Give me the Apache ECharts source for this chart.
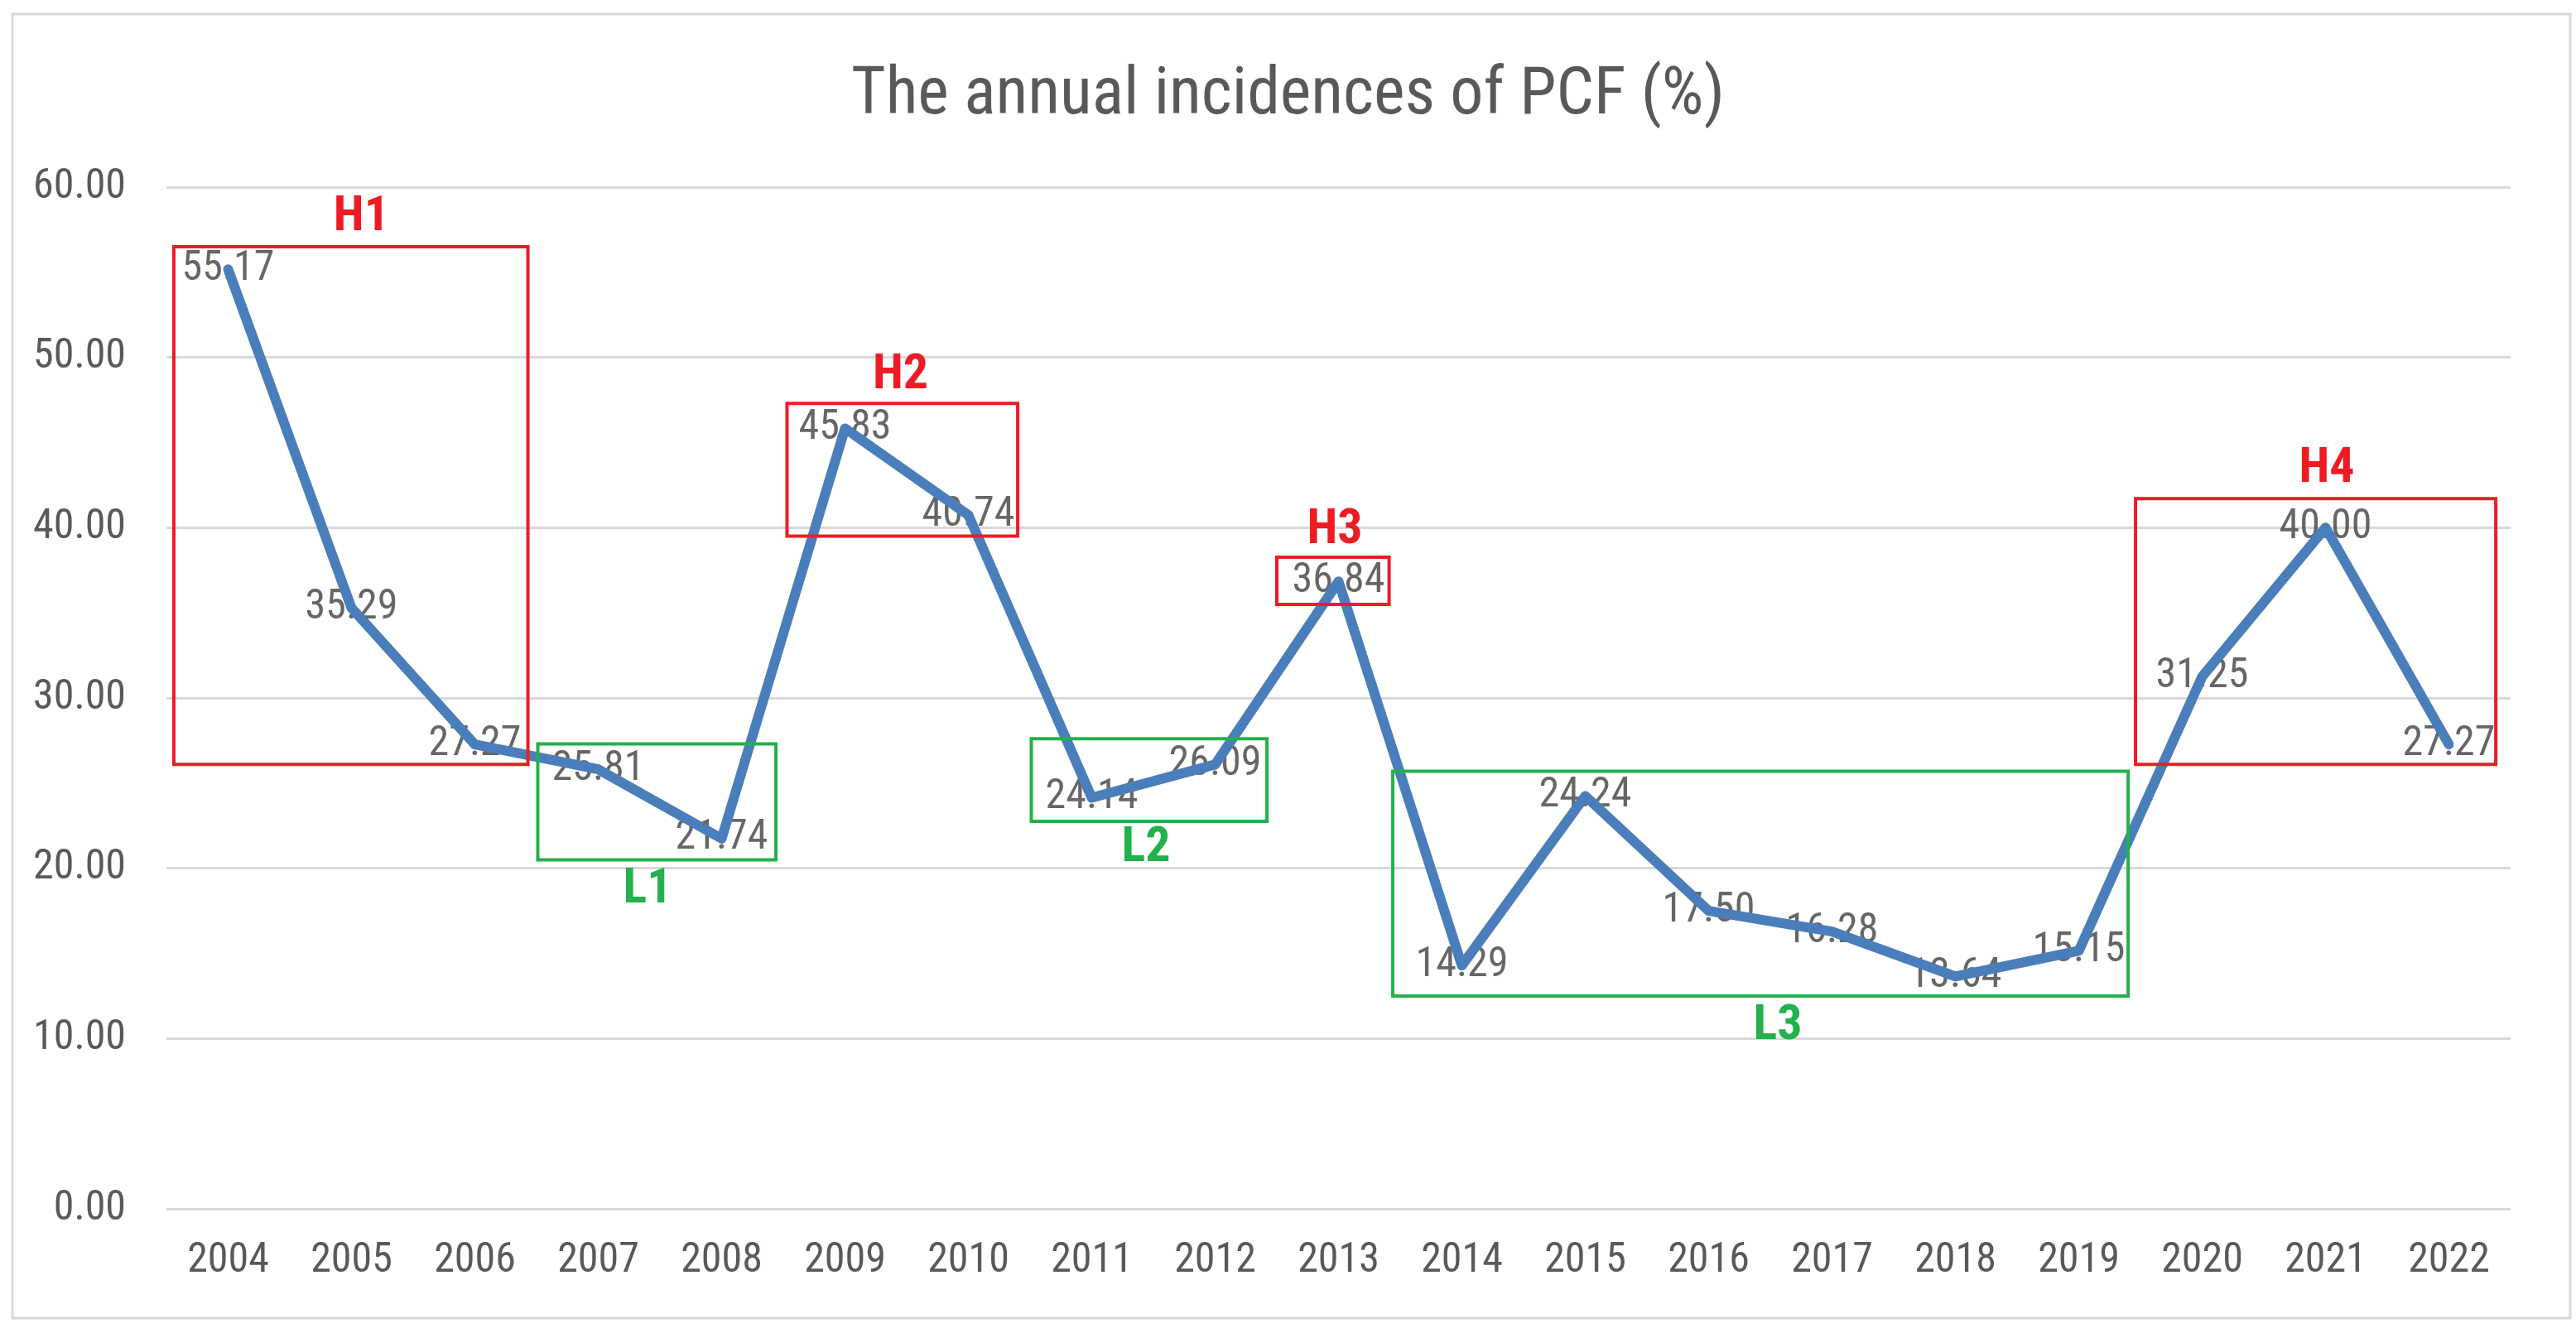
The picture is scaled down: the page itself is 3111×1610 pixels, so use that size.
<!DOCTYPE html>
<html>
<head>
<meta charset="utf-8">
<script src="https://cdn.jsdelivr.net/npm/echarts@6/dist/echarts.min.js"></script>
<style>
html,body{margin:0;padding:0;background:#fff;}
#chart{width:3111px;height:1610px;}
</style>
</head>
<body>
<div id="chart"></div>
<script>
// ---- data ----
var years = ['2004','2005','2006','2007','2008','2009','2010','2011','2012','2013','2014','2015','2016','2017','2018','2019','2020','2021','2022'];
var incidence = [55.17,35.29,27.27,25.81,21.74,45.83,40.74,24.14,26.09,36.84,14.29,24.24,17.50,16.28,13.64,15.15,31.25,40.00,27.27];
var yTicks = [0,10,20,30,40,50,60];

// annotation boxes: category index range (fractional) and value range
var boxNames = ['H1','H2','H3','H4','L1','L2','L3'];
var boxX0 = [-0.44, 4.53, 8.50, 15.46, 2.51, 6.51, 9.44];
var boxX1 = [ 2.43, 6.40, 9.41, 18.38, 4.44, 8.42, 15.40];
var boxY0 = [26.1, 39.5, 35.5, 26.1, 20.5, 22.75, 12.5];
var boxY1 = [56.5, 47.3, 38.26, 41.7, 27.3, 27.6, 25.7];
var labelX = [1.08, 5.45, 8.97, 17.01, 3.40, 7.44, 12.56];
var labelY = [58.2, 48.9, 39.8, 43.4, 18.7, 21.15, 10.7];
var boxKind = ['high','high','high','high','low','low','low'];

var RED = '#ED1C24', GREEN = '#22B14C';
var FONT = "'Liberation Sans Narrow', 'Roboto Condensed', Roboto, sans-serif";

var chart = echarts.init(document.getElementById('chart'));

var annoData = boxNames.map(function(n, i){
  return [boxX0[i], boxY0[i], boxX1[i], boxY1[i], labelX[i], labelY[i]];
});

var option = {
  backgroundColor: '#ffffff',
  animation: false,
  title: {
    text: 'The annual incidences of PCF (%)',
    left: 'center',
    top: 72,
    textStyle: { fontFamily: FONT, fontSize: 80, fontWeight: 'normal', color: '#595959' }
  },
  grid: { left: 201, right: 79, top: 226, bottom: 150 },
  xAxis: [{
    type: 'category',
    data: years,
    boundaryGap: true,
    axisLine: { show: false },
    axisTick: { show: false },
    axisLabel: { fontFamily: FONT, fontSize: 50, color: '#595959', margin: 38, interval: 0 }
  }, {
    type: 'value',
    min: -0.5, max: 18.5,
    show: false
  }],
  yAxis: {
    type: 'value',
    min: yTicks[0], max: yTicks[yTicks.length-1], interval: 10,
    axisLine: { show: false },
    axisTick: { show: false },
    splitLine: { lineStyle: { color: '#d9d9d9', width: 3 } },
    axisLabel: {
      fontFamily: FONT, fontSize: 50, color: '#595959', margin: 49,
      formatter: function(v){ return v.toFixed(2); }
    }
  },
  series: [{
    // data labels, drawn beneath the line as in the reference
    type: 'scatter',
    data: incidence,
    symbol: 'circle',
    symbolSize: 0,
    itemStyle: { color: 'rgba(0,0,0,0)' },
    label: {
      show: true,
      position: 'inside',
      fontFamily: FONT, fontSize: 50, color: '#404040',
      formatter: function(p){ return p.value.toFixed(2); }
    },
    silent: true,
    z: 1
  }, {
    type: 'line',
    data: incidence,
    symbol: 'none',
    lineStyle: { color: '#4A7EBB', width: 12, cap: 'round', join: 'round' },
    itemStyle: { color: '#4A7EBB' },
    z: 2
  }, {
    type: 'custom',
    xAxisIndex: 1,
    yAxisIndex: 0,
    data: annoData,
    encode: { x: [0, 2, 4], y: [1, 3, 5] },
    z: 3,
    silent: true,
    renderItem: function(params, api){
      var i = params.dataIndex;
      var p0 = api.coord([api.value(0), api.value(1)]);
      var p1 = api.coord([api.value(2), api.value(3)]);
      var pl = api.coord([api.value(4), api.value(5)]);
      var col = boxKind[i] === 'high' ? RED : GREEN;
      return {
        type: 'group',
        children: [{
          type: 'rect',
          shape: { x: Math.min(p0[0], p1[0]), y: Math.min(p0[1], p1[1]),
                   width: Math.abs(p1[0]-p0[0]), height: Math.abs(p1[1]-p0[1]) },
          style: { fill: 'none', stroke: col, lineWidth: 4 }
        }, {
          type: 'text',
          style: {
            text: boxNames[i], x: pl[0], y: pl[1],
            fill: col, fontFamily: FONT, fontSize: 60, fontWeight: 'bold',
            align: 'center', verticalAlign: 'middle',
            textAlign: 'center', textVerticalAlign: 'middle'
          }
        }]
      };
    }
  }],
  graphic: [{
    type: 'rect',
    shape: { x: 15, y: 17, width: 3089, height: 1575 },
    style: { fill: 'none', stroke: '#d9d9d9', lineWidth: 3 },
    z: -1
  }]
};

chart.setOption(option);
</script>
</body>
</html>
